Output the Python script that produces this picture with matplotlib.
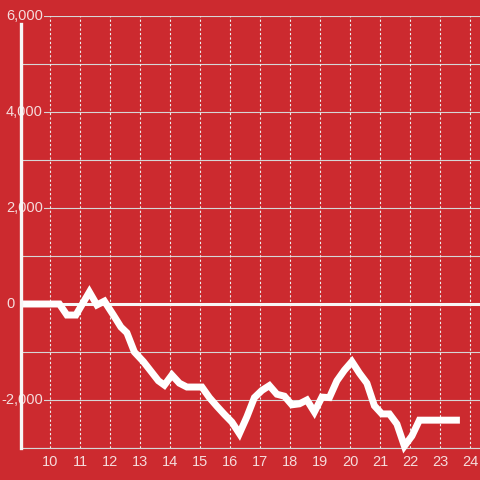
import matplotlib
matplotlib.use('Agg')
import matplotlib.pyplot as plt
from matplotlib.transforms import blended_transform_factory

# hourly net value
hours = [9.0, 10.3, 10.55, 10.85, 11.3, 11.55, 11.8, 12.1, 12.35, 12.55, 12.8, 13.1, 13.35, 13.6,
         13.8, 14.05, 14.3, 14.55, 15.05, 15.3, 15.55, 15.8, 16.05, 16.3, 16.55, 16.8, 17.05, 17.3,
         17.55, 17.8, 18.05, 18.3, 18.55, 18.8, 19.05, 19.3, 19.55, 19.8, 20.05, 20.3, 20.55, 20.8,
         21.05, 21.3, 21.55, 21.8, 22.05, 22.3, 23.65]
values = [0, 0, -230, -230, 250, -20, 60, -230, -480, -600, -1000, -1200, -1400, -1600,
          -1690, -1480, -1650, -1730, -1730, -1950, -2130, -2300, -2460, -2700, -2350, -1950, -1800, -1700,
          -1880, -1920, -2100, -2080, -2000, -2250, -1940, -1950, -1600, -1380, -1200, -1440, -1650, -2120,
          -2290, -2290, -2500, -2960, -2750, -2420, -2420]

x_ticks = list(range(10, 25))
y_grid = list(range(-3000, 6001, 1000))
y_label_vals = [6000, 4000, 2000, 0, -2000]
y_label_txt = ['6,000', '4,000', '2,000', '0', '-2,000']

bg = '#cc2a2f'
txt = '#f5dcdc'

fig = plt.figure(figsize=(4.8, 4.8), dpi=100, facecolor=bg)
ax = fig.add_axes([21/480, 32/480, 459/480, 432/480], facecolor=bg)
ax.set_xlim(9.02, 24.32)
ax.set_ylim(-3000, 6000)

for v in y_grid:
    ax.axhline(v, color='#d6d6d6', lw=0.8, zorder=1)
for v in x_ticks:
    ax.axvline(v, color='#eeeeee', lw=0.8, ls=(0, (2, 2)), zorder=1)
ax.axhline(0, color='#f7f7f7', lw=2.2, zorder=2)

ax.plot(hours, values, color='white', lw=5, solid_joinstyle='miter',
        solid_capstyle='butt', zorder=3, clip_on=False)

ax.set_xticks(x_ticks)
ax.set_xticklabels([str(t) for t in x_ticks])
ax.tick_params(axis='x', length=0, pad=5, colors=txt, labelsize=10.5)
for lbl in ax.get_xticklabels():
    lbl.set_family('Liberation Sans')
ax.set_yticks([])

trans = blended_transform_factory(fig.transFigure, ax.transData)
for v, s in zip(y_label_vals, y_label_txt):
    xr = 15/480 if v == 0 else 43/480
    ax.text(xr, v, s, transform=trans, ha='right', va='center', color=txt,
            fontsize=10.5, family='Liberation Sans', zorder=4,
            bbox=dict(boxstyle='square,pad=0.1', fc=bg, ec='none'), clip_on=False)

for side in ['top', 'right']:
    ax.spines[side].set_visible(False)
ax.spines['bottom'].set_color('#d6d6d6')
ax.spines['bottom'].set_linewidth(0.8)
ax.spines['left'].set_color('#f7f7f7')
ax.spines['left'].set_linewidth(2.4)
ax.spines['left'].set_bounds(-3000, 5830)
ax.spines['left'].set_zorder(5)

fig.savefig('out.png', dpi=100, facecolor=bg)
